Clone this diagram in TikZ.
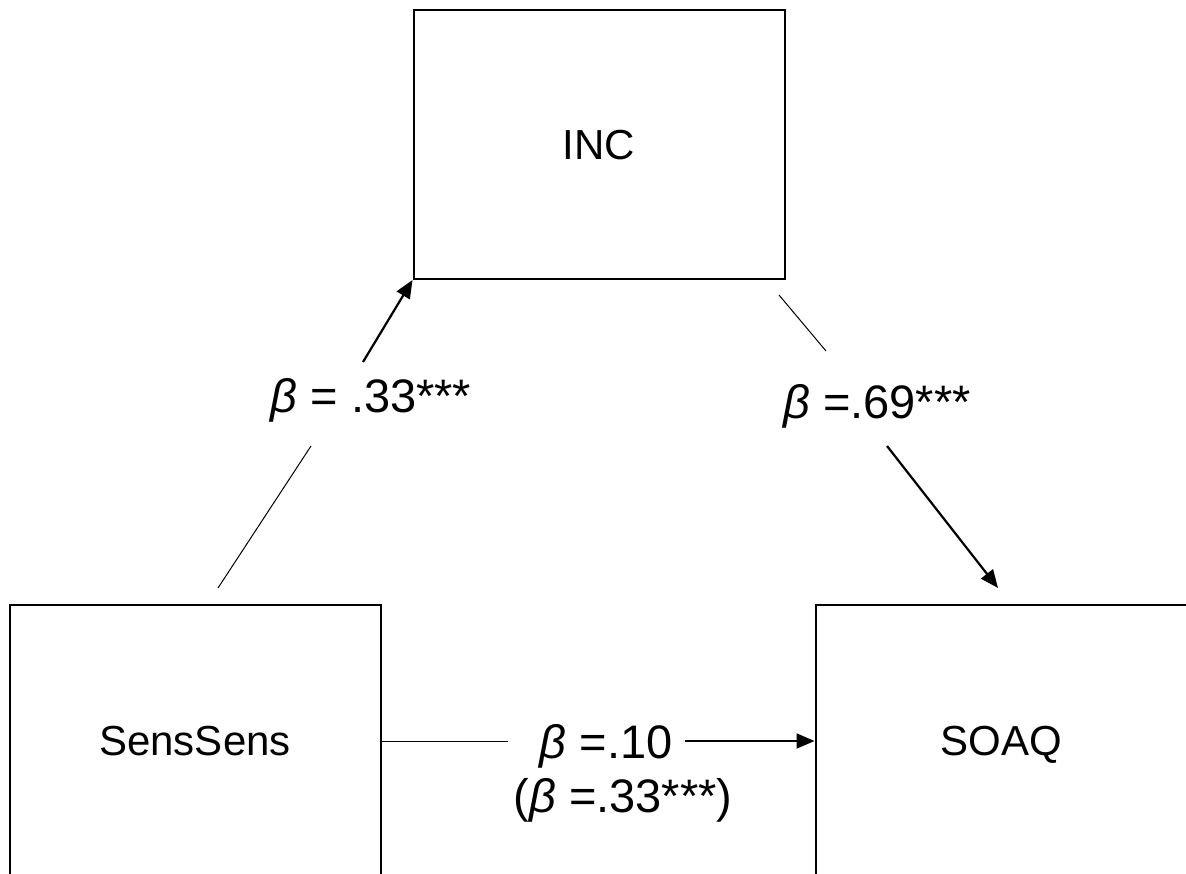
\documentclass[tikz,border=0pt]{standalone}
\usepackage{fontspec}
\setmainfont{Liberation Sans}
\usetikzlibrary{arrows.meta}

\tikzset{
  varbox/.style={draw=black, line width=2pt, minimum width=371pt, minimum height=269pt,
    inner sep=0pt, text depth=0pt, font=\fontsize{42}{50}\selectfont},
  coef/.style={anchor=base, inner sep=0pt, font=\fontsize{47}{56}\selectfont},
  plainline/.style={draw=black, line width=1pt},
  pathline/.style={draw=black, line width=2.2pt, -{Triangle[length=18pt,width=15pt]}},
}

\begin{document}
\begin{tikzpicture}[x=1pt, y=-1pt]
  \useasboundingbox (0,0) rectangle (1186,873);

  % variables (the lower two run past the bottom edge of the page)
  \node[varbox] (inc)  at (599,144.5) {INC};
  \node[varbox, minimum height=272pt] (sens) at (195,741) {SensSens};
  \node[varbox, minimum height=272pt] (soaq) at (1001,741) {SOAQ};

  % path coefficients
  \node[coef] (ca) at (371,412) {\textit{β} = .33***};
  \node[coef] (cb) at (877,418) {\textit{β} =.69***};
  \node[coef] (cc) at (606,758) {\textit{β} =.10};
  \node[coef] (cd) at (623,812) {(\textit{β} =.33***)};

  % a path: SensSens -> INC
  \coordinate (a0) at (218,588);
  \coordinate (a1) at (311,446);
  \coordinate (a2) at (363,362);
  \draw[plainline] (a0) -- (a1);
  \draw[pathline] (a2) -- (inc.south west);

  % b path: INC -> SOAQ
  \coordinate (b0) at (779,295);
  \coordinate (b1) at (826,351);
  \coordinate (b2) at (887,446);
  \coordinate (b3) at (998,588);
  \draw[plainline] (b0) -- (b1);
  \draw[pathline] (b2) -- (b3);

  % c path: SensSens -> SOAQ
  \coordinate (c1) at (508,741);
  \coordinate (c2) at (685,741);
  \draw[plainline] (sens.east) -- (c1);
  \draw[pathline, line width=2pt] (c2) -- (soaq.west);
\end{tikzpicture}
\end{document}
